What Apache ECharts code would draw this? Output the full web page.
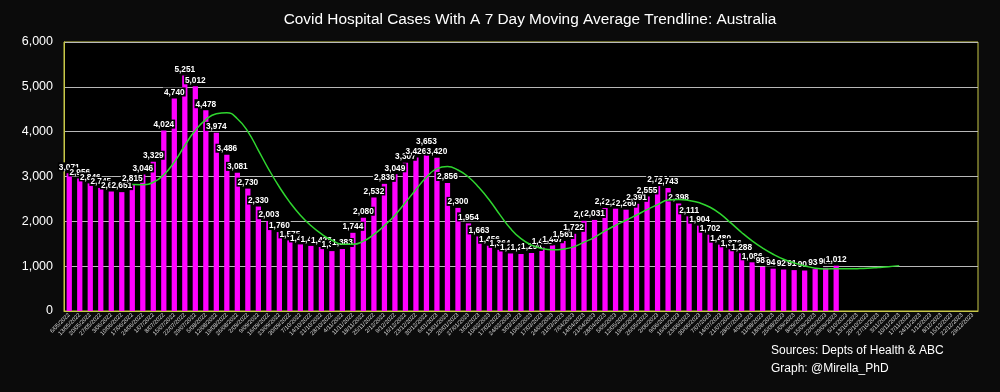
<!DOCTYPE html>
<html><head><meta charset="utf-8">
<script src="https://cdn.jsdelivr.net/npm/echarts@6/dist/echarts.min.js"></script>
<style>html,body{margin:0;padding:0;background:#0b0b0b;}#c{width:1000px;height:392px;}</style>
</head><body><div id="c"></div>
<script>
const categories = ["6/05/2022","13/05/2022","20/05/2022","27/05/2022","3/06/2022","10/06/2022","17/06/2022","24/06/2022","1/07/2022","8/07/2022","15/07/2022","22/07/2022","29/07/2022","5/08/2022","12/08/2022","19/08/2022","26/08/2022","2/09/2022","9/09/2022","16/09/2022","23/09/2022","30/09/2022","7/10/2022","14/10/2022","21/10/2022","28/10/2022","4/11/2022","11/11/2022","18/11/2022","25/11/2022","2/12/2022","9/12/2022","16/12/2022","23/12/2022","30/12/2022","6/01/2023","13/01/2023","20/01/2023","27/01/2023","3/02/2023","10/02/2023","17/02/2023","24/02/2023","3/03/2023","10/03/2023","17/03/2023","24/03/2023","31/03/2023","7/04/2023","14/04/2023","21/04/2023","28/04/2023","5/05/2023","12/05/2023","19/05/2023","26/05/2023","2/06/2023","9/06/2023","16/06/2023","23/06/2023","30/06/2023","7/07/2023","14/07/2023","21/07/2023","28/07/2023","4/08/2023","11/08/2023","18/08/2023","25/08/2023","1/09/2023","8/09/2023","15/09/2023","22/09/2023","29/09/2023","6/10/2023","13/10/2023","20/10/2023","27/10/2023","3/11/2023","10/11/2023","17/11/2023","24/11/2023","1/12/2023","8/12/2023","15/12/2023","22/12/2023","29/12/2023"];
const hospitalCases = [3071,2956,2846,2745,2665,2651,2815,3046,3329,4024,4740,5251,5012,4478,3974,3486,3081,2730,2330,2003,1760,1575,1485,1452,1428,1336,1383,1744,2080,2532,2836,3049,3307,3426,3653,3420,2856,2300,1954,1663,1456,1364,1283,1271,1294,1418,1467,1561,1722,2012,2031,2296,2282,2260,2391,2555,2786,2743,2398,2111,1904,1702,1480,1376,1288,1086,983,944,925,912,903,934,962,1012];
const yTicks = [0,1000,2000,3000,4000,5000,6000];
const maPeriod = 7;

// 7-period moving average trendline (averages the available values in each window)
const movingAvg = categories.map((c, i) => {
  if (i < maPeriod - 1) return null;
  const win = [];
  for (let k = i - maPeriod + 1; k <= i; k++) {
    if (k < hospitalCases.length) win.push(hospitalCases[k]);
  }
  if (!win.length) return null;
  return win.reduce((a, b) => a + b, 0) / win.length;
});

const chart = echarts.init(document.getElementById('c'));
chart.setOption({
  backgroundColor: '#0b0b0b',
  animation: false,
  graphic: [
    { type: 'text', x: 530, y: 20, style: { text: 'Covid Hospital Cases With A 7 Day Moving Average Trendline: Australia', fill: '#ffffff', font: '15.4px "Liberation Sans"', align: 'center', verticalAlign: 'middle' } },
    { type: 'text', left: 771, top: 345, style: { text: 'Sources: Depts of Health & ABC', fill: '#ffffff', font: '12px "Liberation Sans"' } },
    { type: 'text', left: 771, top: 363, style: { text: 'Graph: @Mirella_PhD', fill: '#ffffff', font: '12px "Liberation Sans"' } }
  ],
  grid: { left: 64, right: 22, top: 42, bottom: 81, show: true, borderColor: '#c8c848', borderWidth: 1, backgroundColor: '#000000' },
  xAxis: {
    type: 'category', data: categories, boundaryGap: true,
    axisLine: { lineStyle: { color: '#c8c848' } },
    axisTick: { show: false },
    axisLabel: { interval: 0, rotate: 45, fontSize: 5.8, color: '#d8d8d8', margin: 3, fontFamily: 'Liberation Sans' }
  },
  yAxis: {
    type: 'value', min: yTicks[0], max: yTicks[yTicks.length - 1], interval: 1000,
    axisLine: { show: true, lineStyle: { color: '#c8c848' } },
    axisTick: { show: false },
    splitLine: { lineStyle: { color: '#b8b8b8', width: 1 } },
    axisLabel: { color: '#ffffff', fontSize: 12.5, margin: 11, fontFamily: 'Liberation Sans',
      formatter: v => v.toLocaleString('en-US') }
  },
  series: [
    {
      type: 'bar', data: hospitalCases, barWidth: '50%', z: 2,
      itemStyle: { color: '#ff00ff' },
      label: { show: true, position: 'top', distance: 2, color: '#ffffff', fontSize: 8.3, fontWeight: 'bold',
        fontFamily: 'Liberation Sans', backgroundColor: '#000000', padding: [1, 1, 0, 1],
        formatter: p => p.value.toLocaleString('en-US') }
    },
    {
      type: 'line', data: movingAvg, smooth: true, symbol: 'none', z: 3,
      lineStyle: { color: '#2fd62f', width: 1.5 }
    }
  ]
});
</script></body></html>
